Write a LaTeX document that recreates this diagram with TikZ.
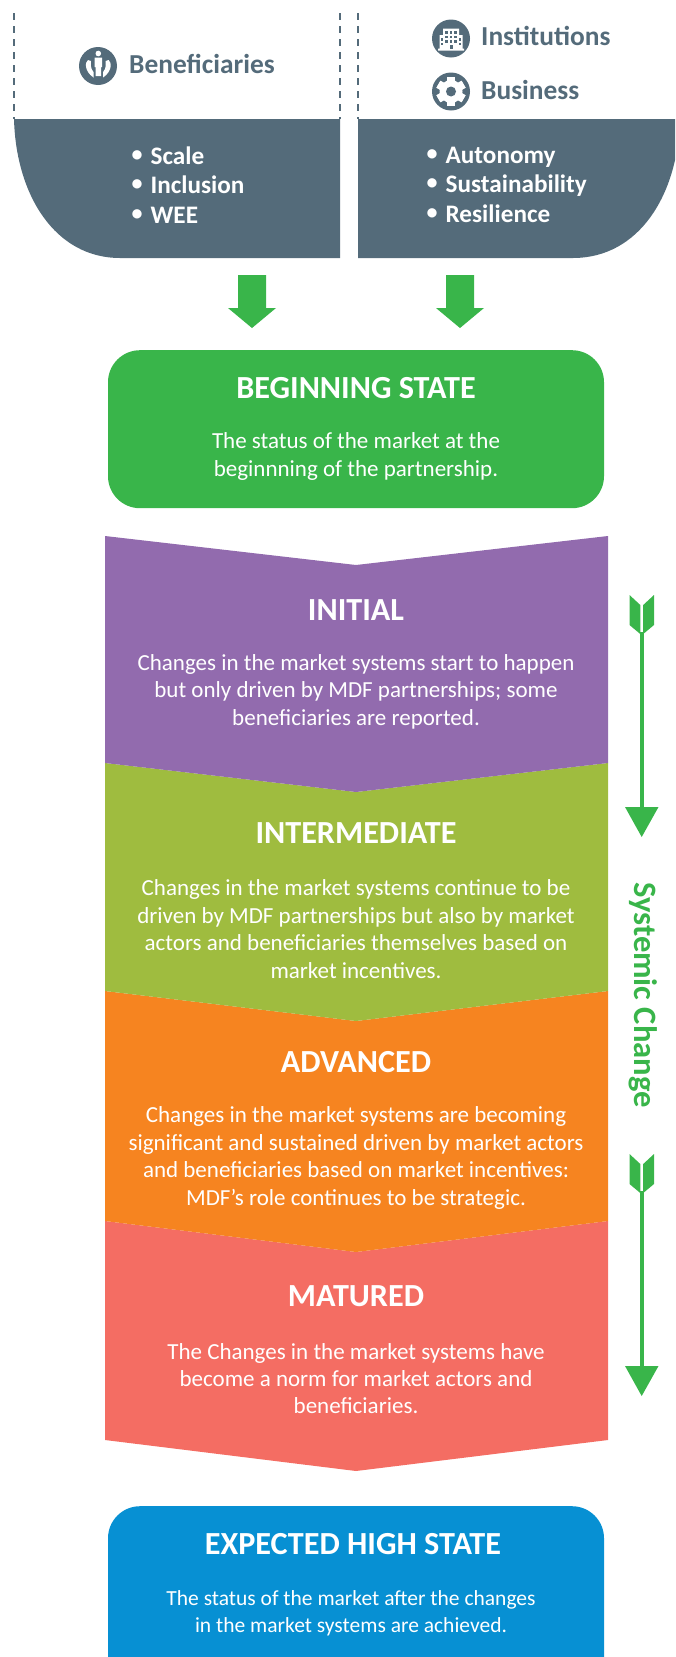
\documentclass[tikz,border=0pt]{standalone}
\usepackage{fontspec}
\setmainfont{Carlito}
\definecolor{slate}{HTML}{546B7A}
\definecolor{gr}{HTML}{39B54A}
\definecolor{pur}{HTML}{926BAE}
\definecolor{oli}{HTML}{9FBC3F}
\definecolor{ora}{HTML}{F68420}
\definecolor{rd}{HTML}{F46D63}
\definecolor{blu}{HTML}{0790D3}
\newcommand{\bul}{\raisebox{3pt}{\fontsize{22}{22}\selectfont •}\hspace{8pt}}
\tikzset{
  x=1pt,y=-1pt,
  dashline/.style={draw=slate,line width=1.3pt,dash pattern=on 7pt off 6pt},
  titletext/.style={text=white,font=\fontsize{32.2}{32}\selectfont\bfseries,inner sep=0pt},
  bodytext/.style={text=white,font=\fontsize{23}{27.4}\selectfont,align=center,inner sep=0pt},
  smallbody/.style={bodytext,font=\fontsize{21.5}{27.4}\selectfont},
  listtext/.style={text=white,font=\fontsize{25.2}{29.5}\selectfont\bfseries,align=left,inner sep=0pt,anchor=north west},
  headtext/.style={text=slate,font=\fontsize{27.4}{27}\selectfont\bfseries,inner sep=0pt,anchor=west},
  statebox/.style={rounded corners=32pt,minimum width=496pt,inner sep=0pt,anchor=north},
  iconbg/.style={circle,fill=slate,minimum size=38pt,inner sep=0pt},
  blockarrow/.style={fill=gr},
  sideline/.style={draw=gr,line width=3.6pt},
}
\begin{document}
\begin{tikzpicture}
\clip (0,0) rectangle (675,1657);
% dashed verticals
\coordinate (d1t) at (14,13); \coordinate (d1b) at (14,119);
\coordinate (d2t) at (340,13); \coordinate (d2b) at (340,119);
\coordinate (d3t) at (358,13); \coordinate (d3b) at (358,119);
\draw[dashline] (d1t) -- (d1b);
\draw[dashline] (d2t) -- (d2b);
\draw[dashline] (d3t) -- (d3b);
% panels
\fill[slate] (14,119) -- (340,119) -- (340,258) -- (120,258)
  .. controls (55,258) and (16,195) .. cycle;
\fill[slate] (358,119) -- (680,119) .. controls (678,195) and (639,258) .. (573,258) -- (358,258) -- cycle;
% icons
\node[iconbg] (ib) at (98,66) {};
\fill[white] (98.3,53.5) circle (2.8);
\fill[white] (94.6,57.5) rectangle (102,67) (95.6,67) rectangle (101,76);
\fill[white] (88,60) .. controls (85,62) and (84,71) .. (93.5,77.5) -- (93.5,72) .. controls (90,68) and (91,64) .. (91,61) -- cycle;
\fill[white] (108.6,60) .. controls (111.6,62) and (112.6,71) .. (103.1,77.5) -- (103.1,72) .. controls (106.6,68) and (105.6,64) .. (105.6,61) -- cycle;
\node[iconbg] (ii) at (451,38.5) {};
\fill[white] (443,28.5) rectangle (459,49) (439.5,35) rectangle (462.5,49) (438,48.5) rectangle (464,50.5);
\foreach \xx in {445,449.6,454.2}{\foreach \yy in {31,35.5,40}{\fill[slate] (\xx,\yy) rectangle ++(2.6,2.8);}}
\foreach \xx in {441.2,458.6}{\foreach \yy in {38,42.5}{\fill[slate] (\xx,\yy) rectangle ++(2.2,2.8);}}
\fill[slate] (449.5,45) rectangle (452.5,49);
\node[iconbg] (ig) at (451,91.5) {};
\foreach \a in {0,60,...,300}{\fill[white,rotate around={\a:(451,91.5)}] (447,77) rectangle (455,106);}
\fill[white] (451,91.5) circle (11.5);
\fill[slate] (451,91.5) circle (5);
% heading labels
\node[headtext] (hb) at (129,63.5) {Beneficiaries};
\node[headtext] (hi) at (481,36) {Institutions};
\node[headtext] (hu) at (481,90) {Business};
% lists
\node[listtext] (l1) at (131.5,146.5) {\bul Scale\\\bul Inclusion\\\bul WEE};
\node[listtext] (l2) at (426.5,146.5) {\bul Autonomy\\\bul Sustainability\\\bul Resilience};
% block arrows
\fill[blockarrow] (238,275) -- (266,275) -- (266,308) -- (276,308) -- (252,328) -- (228,308) -- (238,308) -- cycle;
\fill[blockarrow] (446,275) -- (474,275) -- (474,308) -- (484,308) -- (460,328) -- (436,308) -- (446,308) -- cycle;
% beginning state
\node[statebox,fill=gr,minimum height=158pt] (begin) at (356,350) {};
\node[titletext] (begint) at (356,388.5) {BEGINNING STATE};
\node[bodytext] (beginb) at (356,456.5) {The status of the market at the\\beginnning of the partnership.};
% chevrons (bottom-up so each point overlaps the next)
\fill[rd] (105,1221) -- (356,1252) -- (608,1221) -- (608,1440) -- (356,1471) -- (105,1440) -- cycle;
\fill[ora] (105,991) -- (356,1021) -- (608,991) -- (608,1221) -- (356,1252) -- (105,1221) -- cycle;
\fill[oli] (105,763) -- (356,792) -- (608,763) -- (608,991) -- (356,1021) -- (105,991) -- cycle;
\fill[pur] (105,536) -- (356,565) -- (608,536) -- (608,763) -- (356,792) -- (105,763) -- cycle;
\node[titletext] (t1) at (356,610.5) {INITIAL};
\node[bodytext] (b1) at (356,691.5) {Changes in the market systems start to happen\\but only driven by MDF partnerships; some\\beneficiaries are reported.};
\node[titletext] (t2) at (356,833.5) {INTERMEDIATE};
\node[bodytext] (b2) at (356,929) {Changes in the market systems continue to be\\driven by MDF partnerships but also by market\\actors and beneficiaries themselves based on\\market incentives.};
\node[titletext] (t3) at (356,1062.5) {ADVANCED};
\node[bodytext] (b3) at (356,1158) {Changes in the market systems are becoming\\significant and sustained driven by market actors\\and beneficiaries based on market incentives:\\MDF’s role continues to be strategic.};
\node[titletext] (t4) at (356,1296.5) {MATURED};
\node[bodytext] (b4) at (356,1378.5) {The Changes in the market systems have\\become a norm for market actors and\\beneficiaries.};
% expected high state
\node[statebox,fill=blu,minimum height=200pt] (exp) at (356,1506) {};
\node[titletext] (et) at (353,1544.5) {EXPECTED HIGH STATE};
\node[smallbody] (eb) at (351,1613.5) {The status of the market after the changes\\in the market systems are achieved.};
% side arrows
\coordinate (s1a) at (641.7,632); \coordinate (s1b) at (641.7,810);
\coordinate (s2a) at (641.7,1191); \coordinate (s2b) at (641.7,1368);
\draw[sideline] (s1a) -- (s1b);
\draw[sideline] (s2a) -- (s2b);
\foreach \dy in {0,559}{
  \fill[gr] (625,807+\dy) -- (658.5,807+\dy) -- (641.7,837+\dy) -- cycle;
  \fill[gr] (629.5,595+\dy) -- (640.3,605+\dy) -- (640.3,634+\dy) -- (629.5,625+\dy) -- cycle;
  \fill[gr] (654,595+\dy) -- (643.2,605+\dy) -- (643.2,634+\dy) -- (654,625+\dy) -- cycle;
}
\node[rotate=-90,text=gr,font=\fontsize{32.6}{32}\selectfont\bfseries,inner sep=0pt] (sc) at (643,995) {Systemic Change};
\end{tikzpicture}
\end{document}
